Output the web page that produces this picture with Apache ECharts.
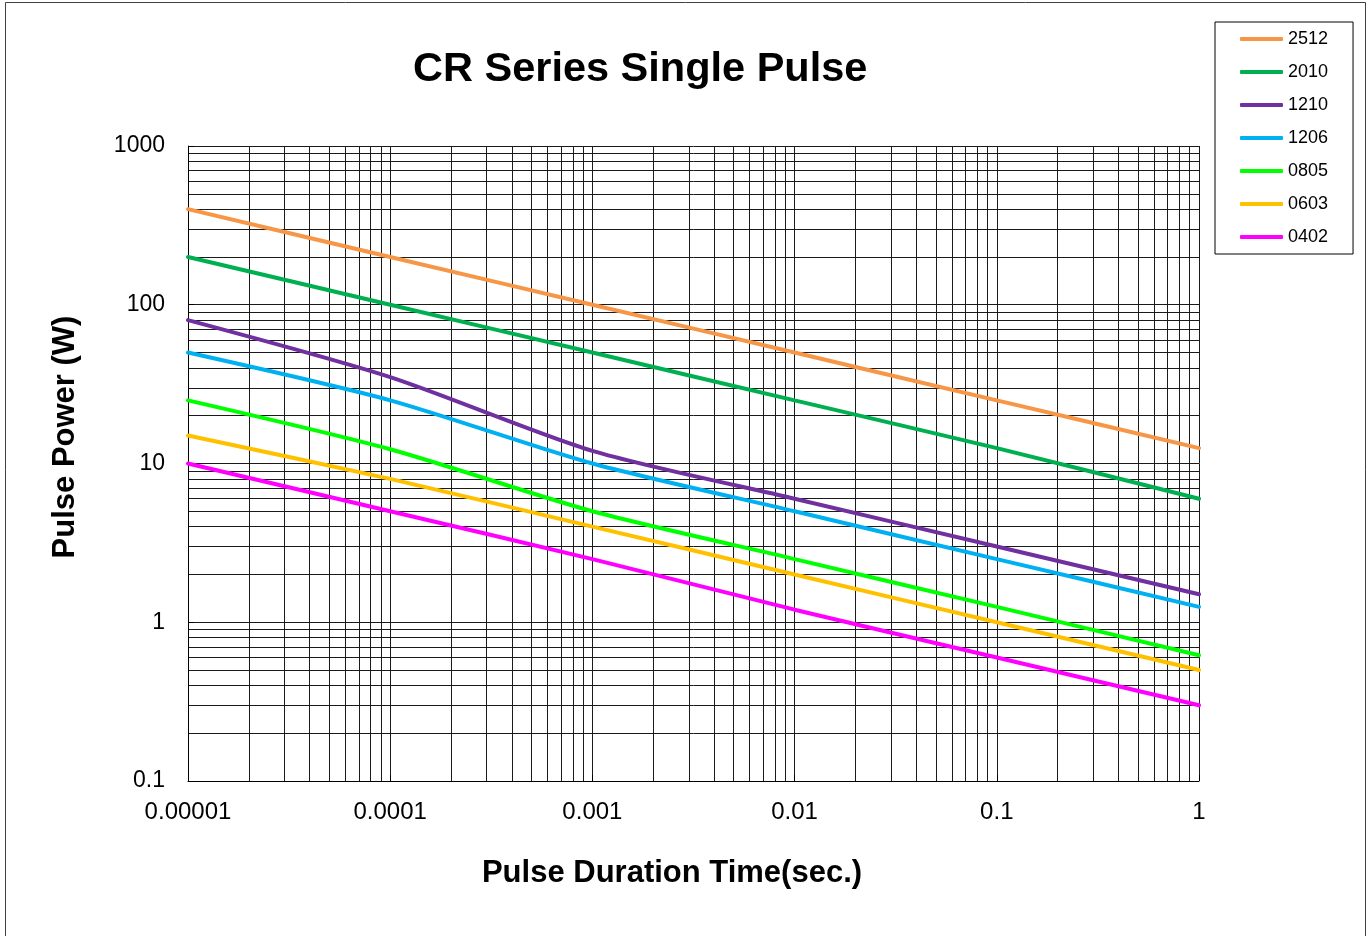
<!DOCTYPE html>
<html>
<head>
<meta charset="utf-8">
<script src="https://cdn.jsdelivr.net/npm/echarts@6/dist/echarts.min.js"></script>
<style>
html,body{margin:0;padding:0;background:#fff;}
#chart{width:1370px;height:936px;}
</style>
</head>
<body>
<div id="chart"></div>
<script>
// ---- data ----
const titleText = 'CR Series Single Pulse';
const xAxisTitle = 'Pulse Duration Time(sec.)';
const yAxisTitle = 'Pulse Power (W)';
const pulseTimes = [0.00001, 0.0001, 0.001, 0.01, 0.1, 1];
const xTickLabels = ['0.00001', '0.0001', '0.001', '0.01', '0.1', '1'];
const yTickValues = [0.1, 1, 10, 100, 1000];
const yTickLabels = ['0.1', '1', '10', '100', '1000'];
const seriesNames = ['2512', '2010', '1210', '1206', '0805', '0603', '0402'];
const power2512 = [400, 200, 100, 50, 25, 12.5];
const power2010 = [200, 100, 50, 25, 12.5, 6];
const power1210 = [80, 35, 12, 6, 3, 1.5];
const power1206 = [50, 25, 10, 5, 2.5, 1.25];
const power0805 = [25, 12.3, 5, 2.5, 1.25, 0.62];
const power0603 = [15, 8, 4, 2, 1, 0.5];
const power0402 = [10, 5, 2.5, 1.2, 0.6, 0.3];
const seriesColors = ['#F79646', '#00B050', '#7030A0', '#00B0F0', '#00FF00', '#FFC000', '#FF00FF'];

const seriesValues = [power2512, power2010, power1210, power1206, power0805, power0603, power0402];
const font = 'Arial, "Liberation Sans", sans-serif';

function labelFor(values, labels) {
  return function (v) {
    for (let i = 0; i < values.length; i++) {
      if (Math.abs(Math.log10(v) - Math.log10(values[i])) < 1e-6) return labels[i];
    }
    return '';
  };
}

const chart = echarts.init(document.getElementById('chart'));
const gridLine = { show: true, lineStyle: { color: '#1a1a1a', width: 1 } };

chart.setOption({
  animation: false,
  backgroundColor: '#fff',
  title: {
    text: titleText,
    left: 408,
    top: 44,
    textStyle: { fontFamily: font, fontSize: 41.5, fontWeight: 'bold', color: '#000' }
  },
  legend: {
    orient: 'vertical',
    left: 1215,
    top: 22,
    padding: [8, 25, 8, 25],
    borderColor: '#000',
    borderWidth: 1,
    icon: 'roundRect',
    itemWidth: 43,
    itemHeight: 4,
    itemGap: 15,
    itemTextGap: 3,
    textStyle: { fontFamily: font, fontSize: 18, color: '#000' },
    data: seriesNames
  },
  grid: { left: 188, top: 146, width: 1011, height: 635, containLabel: false },
  xAxis: {
    type: 'log',
    logBase: 10,
    min: pulseTimes[0],
    max: pulseTimes[pulseTimes.length - 1],
    axisLine: { show: true, lineStyle: { color: '#000', width: 1 } },
    axisTick: { show: true, inside: true, length: 6, lineStyle: { color: '#000' } },
    axisLabel: {
      fontFamily: font, fontSize: 24, color: '#000', margin: 19,
      formatter: labelFor(pulseTimes, xTickLabels)
    },
    splitLine: gridLine,
    minorTick: { show: false, splitNumber: 9 },
    minorSplitLine: gridLine
  },
  yAxis: {
    type: 'log',
    logBase: 10,
    min: yTickValues[0],
    max: yTickValues[yTickValues.length - 1],
    axisLine: { show: true, lineStyle: { color: '#000', width: 1 } },
    axisTick: { show: true, inside: true, length: 6, lineStyle: { color: '#000' } },
    axisLabel: {
      fontFamily: font, fontSize: 23, color: '#000', margin: 23,
      formatter: labelFor(yTickValues, yTickLabels)
    },
    splitLine: gridLine,
    minorTick: { show: false, splitNumber: 9 },
    minorSplitLine: gridLine
  },
  graphic: [
    {
      type: 'rect',
      shape: { x: 5.5, y: 2.5, width: 1360, height: 940 },
      style: { fill: 'none', stroke: '#404040', lineWidth: 1 },
      silent: true
    },
    {
      type: 'text',
      x: 65, y: 437,
      rotation: Math.PI / 2,
      style: {
        text: yAxisTitle, fontFamily: font, fontSize: 31, fontWeight: 'bold',
        fill: '#000', align: 'center', verticalAlign: 'middle'
      }
    },
    {
      type: 'text',
      x: 672, y: 873,
      style: {
        text: xAxisTitle, fontFamily: font, fontSize: 31, fontWeight: 'bold',
        fill: '#000', align: 'center', verticalAlign: 'middle'
      }
    }
  ],
  series: seriesNames.map(function (name, i) {
    return {
      name: name,
      type: 'line',
      symbol: 'none',
      smooth: 0.25,
      color: seriesColors[i],
      lineStyle: { width: 4, color: seriesColors[i], cap: 'round' },
      data: pulseTimes.map(function (t, j) { return [t, seriesValues[i][j]]; })
    };
  })
});
</script>
</body>
</html>
